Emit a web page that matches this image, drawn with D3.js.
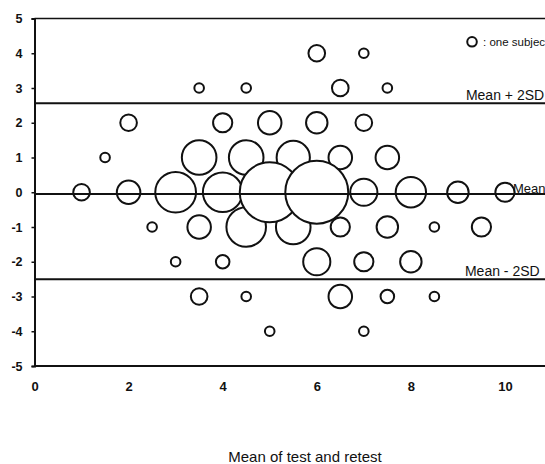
<!DOCTYPE html>
<html>
<head>
<meta charset="utf-8">
<script src="https://cdn.jsdelivr.net/npm/d3@7"></script>
<style>
  body { margin: 0; background: #fff; }
  svg { display: block; font-family: "Liberation Sans", Arial, sans-serif; }
</style>
</head>
<body>
<div id="chart"></div>
<script>
// Mean of test and retest (x), difference (y), number of subjects at that point
const meanScores = [6, 7,
  3.5, 4.5, 6.5, 7.5,
  2, 4, 5, 6, 7,
  1.5, 3.5, 4.5, 5.5, 6.5, 7.5,
  1, 2, 3, 4, 5, 6, 7, 8, 9, 10,
  2.5, 3.5, 4.5, 5.5, 6.5, 7.5, 8.5, 9.5,
  3, 4, 6, 7, 8,
  3.5, 4.5, 6.5, 7.5, 8.5,
  5, 7];
const differences = [4, 4,
  3, 3, 3, 3,
  2, 2, 2, 2, 2,
  1, 1, 1, 1, 1, 1,
  0, 0, 0, 0, 0, 0, 0, 0, 0, 0,
  -1, -1, -1, -1, -1, -1, -1, -1,
  -2, -2, -2, -2, -2,
  -3, -3, -3, -3, -3,
  -4, -4];
const subjects = [3, 1,
  1, 1, 3, 1,
  3, 4, 6, 5, 3,
  1, 13, 13, 12, 6, 6,
  3, 6, 18, 17, 39, 43, 8, 10, 5, 4,
  1, 6, 17, 13, 4, 5, 1, 4,
  1, 2, 8, 4, 5,
  3, 1, 6, 2, 1,
  1, 1];

const xTicks = [0, 2, 4, 6, 8, 10];
const yTicks = [5, 4, 3, 2, 1, 0, -1, -2, -3, -4, -5];

const refValues = [2.56, -0.05, -2.5];
const refLabels = ["Mean + 2SD", "Mean", "Mean - 2SD"];

const legendLabel = ": one subject";
const xTitle = "Mean of test and retest";

function bubblechart() {

  const margin = { top: 18.5, right: 0, bottom: 98, left: 34.5 };
  const totalW = 545, totalH = 464;
  const width = 517.5;              // runs past the right edge, like the scan
  const height = totalH - margin.top - margin.bottom;

  function chart(selector) {
    const svg = d3.select(selector)
      .append("svg")
      .attr("width", totalW)
      .attr("height", totalH)
      .style("overflow", "hidden");

    const g = svg.append("g")
      .attr("transform", `translate(${margin.left},${margin.top})`);

    const x = d3.scaleLinear().domain([0, 11]).range([0, width]);
    const y = d3.scaleLinear().domain([-5, 5]).range([height, 0]);
    const r = d3.scaleSqrt().domain([0, 1]).range([0, 4.8]);

    // frame
    g.append("line")
      .attr("x1", 0).attr("x2", width)
      .attr("y1", 0).attr("y2", 0)
      .attr("stroke", "#111").attr("stroke-width", 1.6);
    g.append("line")
      .attr("x1", 0).attr("x2", width)
      .attr("y1", height).attr("y2", height)
      .attr("stroke", "#111").attr("stroke-width", 2);

    // axes
    const yAxis = d3.axisLeft(y)
      .tickValues(yTicks)
      .tickFormat(d => String(d))
      .tickSize(3)
      .tickPadding(9);
    const yG = g.append("g").call(yAxis);
    yG.select(".domain").attr("stroke", "#111").attr("stroke-width", 2);
    yG.selectAll(".tick line").attr("stroke", "#111").attr("stroke-width", 1.5);
    yG.selectAll(".tick text")
      .attr("font-size", 12.5)
      .attr("font-weight", "bold")
      .attr("fill", "#111");

    const xAxis = d3.axisBottom(x)
      .tickValues(xTicks)
      .tickFormat(d => String(d))
      .tickSize(0)
      .tickPadding(16);
    const xG = g.append("g")
      .attr("transform", `translate(0,${height})`)
      .call(xAxis);
    xG.select(".domain").remove();
    xG.selectAll(".tick text")
      .attr("font-size", 13)
      .attr("font-weight", "bold")
      .attr("fill", "#111");

    // bubbles, largest on top
    const points = meanScores.map((m, i) => ({ m: m, d: differences[i], n: subjects[i] }))
      .sort((a, b) => a.n - b.n);

    g.selectAll(".bubble")
      .data(points)
      .enter()
      .append("circle")
      .attr("class", "bubble")
      .attr("cx", p => x(p.m))
      .attr("cy", p => y(p.d))
      .attr("r", p => r(p.n))
      .attr("fill", "#fff")
      .attr("stroke", "#111")
      .attr("stroke-width", 2);

    // mean and limits of agreement
    g.selectAll(".ref")
      .data(refValues)
      .enter()
      .append("line")
      .attr("class", "ref")
      .attr("x1", 0).attr("x2", width)
      .attr("y1", d => y(d)).attr("y2", d => y(d))
      .attr("stroke", "#111")
      .attr("stroke-width", 2);

    const labelX = [9.17, 10.17, 9.15];
    const labelDy = [-3.5, -1, -3.5];
    const labelSize = [14, 13, 14];
    g.selectAll(".ref-label")
      .data(refLabels)
      .enter()
      .append("text")
      .attr("class", "ref-label")
      .attr("x", (d, i) => x(labelX[i]))
      .attr("y", (d, i) => y(refValues[i]) + labelDy[i])
      .attr("font-size", (d, i) => labelSize[i])
      .attr("fill", "#111")
      .text(d => d);

    // legend
    g.append("circle")
      .attr("cx", x(9.3))
      .attr("cy", y(4.33))
      .attr("r", r(1))
      .attr("fill", "#fff")
      .attr("stroke", "#111")
      .attr("stroke-width", 2);
    g.append("text")
      .attr("x", x(9.3) + 11)
      .attr("y", y(4.33) + 4)
      .attr("font-size", 11.5)
      .attr("fill", "#111")
      .text(legendLabel);

    // x title, centred under the whole (cut off) plot
    svg.append("text")
      .attr("x", 305)
      .attr("y", 462)
      .attr("text-anchor", "middle")
      .attr("font-size", 15)
      .attr("fill", "#111")
      .text(xTitle);

    return chart;
  }

  return chart;
}

bubblechart()("#chart");
</script>
</body>
</html>
